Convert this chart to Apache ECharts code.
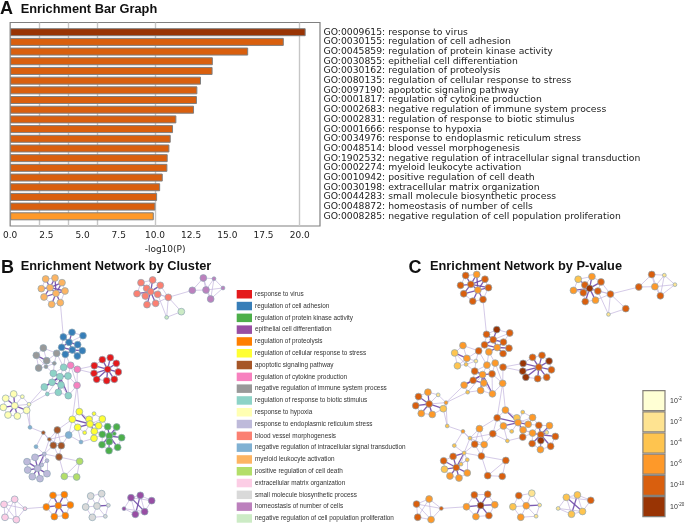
<!DOCTYPE html>
<html><head><meta charset="utf-8">
<style>html,body{margin:0;padding:0;background:#fff}#c{width:685px;height:524px}</style>
<script src="https://cdn.jsdelivr.net/npm/echarts@6/dist/echarts.min.js"></script>
</head><body><div id="c"></div>
<script>
// ---- Panel A data
const goLabels = ["GO:0009615: response to virus","GO:0030155: regulation of cell adhesion","GO:0045859: regulation of protein kinase activity","GO:0030855: epithelial cell differentiation","GO:0030162: regulation of proteolysis","GO:0080135: regulation of cellular response to stress","GO:0097190: apoptotic signaling pathway","GO:0001817: regulation of cytokine production","GO:0002683: negative regulation of immune system process","GO:0002831: regulation of response to biotic stimulus","GO:0001666: response to hypoxia","GO:0034976: response to endoplasmic reticulum stress","GO:0048514: blood vessel morphogenesis","GO:1902532: negative regulation of intracellular signal transduction","GO:0002274: myeloid leukocyte activation","GO:0010942: positive regulation of cell death","GO:0030198: extracellular matrix organization","GO:0044283: small molecule biosynthetic process","GO:0048872: homeostasis of number of cells","GO:0008285: negative regulation of cell population proliferation"];
const minusLogP = [20.41,18.9,16.44,14.0,13.98,13.18,12.93,12.9,12.7,11.48,11.25,11.09,11.0,10.88,10.86,10.54,10.36,10.15,10.03,9.92];
const pThresholdLines = [2,4,6,10,20];

// ---- Panel B/C data
const clusterNames = ["response to virus","regulation of cell adhesion","regulation of protein kinase activity","epithelial cell differentiation","regulation of proteolysis","regulation of cellular response to stress","apoptotic signaling pathway","regulation of cytokine production","negative regulation of immune system process","regulation of response to biotic stimulus","response to hypoxia","response to endoplasmic reticulum stress","blood vessel morphogenesis","negative regulation of intracellular signal transduction","myeloid leukocyte activation","positive regulation of cell death","extracellular matrix organization","small molecule biosynthetic process","homeostasis of number of cells","negative regulation of cell population proliferation"];
const pBinNames = ["1e-2","1e-3","1e-4","1e-6","1e-10","1e-20"];
const pBinExponents = ["-2","-3","-4","-6","-10","-20"];

// nodes: [x, y, p-value bin, term-size class]
const virusNodes = [[331,323,4,2],[307,329,4,2],[349,340,5,2],[283,347,5,2],[355,366,4,2],[323,358,4,2],[282,370,5,2],[290,388,5,2],[320,392,4,2],[343,388,4,2]];
const adhesionNodes = [[216,247,5,2],[249,257,4,2],[190,261,4,2],[207,277,4,2],[233,284,4,2],[247,302,4,2],[232,318,4,2],[185,292,4,2],[196,313,3,2],[217,300,3,2]];
const kinaseNodes = [[323,530,4,2],[350,531,3,2],[307,553,3,2],[343,551,1,1],[328,558,4,2],[365,563,4,2],[328,575,5,2],[306,584,4,2],[353,592,4,2],[327,602,3,2]];
const epithelialNodes = [[393,743,2,2],[421,736,2,2],[455,752,4,2],[372,776,1,1],[406,793,2,2],[434,785,2,2]];
const proteolysisNodes = [[159,736,4,2],[193,734,4,2],[139,771,3,2],[175,767,5,2],[211,765,3,2],[163,800,3,2],[196,797,4,2]];
const stressNodes = [[238,485,3,2],[282,491,2,1],[217,508,4,2],[307,507,3,2],[267,508,2,2],[296,527,3,2],[233,532,3,2],[283,544,3,2],[282,565,4,2],[254,548,2,1],[270,522,3,2]];
const apoptoticNodes = [[130,548,3,1],[172,540,3,2],[148,568,2,1],[160,586,4,2],[184,587,3,2],[177,621,4,2]];
const cytokineNodes = [[212,346,3,2],[232,358,4,2],[231,406,3,2]];
const immuneNodes = [[130,294,3,2],[109,316,2,2],[170,310,4,2],[140,332,3,2],[116,354,2,2],[163,340,1,1],[138,350,2,1]];
const bioticNodes = [[191,352,3,2],[160,370,4,2],[204,378,4,2],[180,380,3,2],[156,397,4,2],[133,411,3,2],[142,432,2,1],[175,427,3,2],[205,437,3,2],[183,405,3,2]];
const hypoxiaNodes = [[41,432,3,2],[17,445,4,2],[67,440,1,1],[44,467,4,2],[10,472,4,2],[24,495,3,2],[52,498,3,2],[80,481,2,2],[87,463,3,1]];
const erStressNodes = [[105,622,4,2],[133,612,2,1],[81,635,4,2],[141,632,2,1],[83,660,2,2],[113,655,4,2],[141,671,3,2],[97,680,3,2],[120,686,3,2],[125,645,2,1]];
const vesselNodes = [[423,98,2,2],[458,90,3,2],[481,106,4,2],[411,131,3,2],[440,115,4,2],[452,125,5,2],[473,133,4,2],[505,142,4,2],[436,138,4,2],[441,164,4,2],[467,160,3,2]];
const signalNodes = [[206,555,4,2],[243,576,2,1],[90,532,2,1],[108,590,2,1]];
const myeloidNodes = [[137,87,4,2],[165,84,3,2],[186,98,4,2],[195,123,4,2],[181,158,4,2],[155,163,4,2],[132,141,4,2],[124,116,4,2],[150,113,4,2],[168,130,3,2]];
const deathNodes = [[239,634,4,2],[193,679,4,2],[230,681,4,2]];
const matrixNodes = [[44,748,3,2],[12,763,4,2],[75,776,4,1],[49,809,3,2],[15,802,4,2]];
const biosynthNodes = [[272,738,4,2],[305,731,1,2],[257,771,2,2],[291,768,3,2],[325,766,1,1],[277,802,3,2],[316,799,1,1]];
const homeostasisNodes = [[610,84,4,2],[642,86,1,1],[577,121,4,2],[618,120,3,2],[669,114,1,1],[632,147,4,2]];
const proliferationNodes = [[544,185,4,2],[500,202,1,1]];

// edges inside a cluster: [node, node, strength]
const virusEdges = [[5,0,2],[5,1,2],[5,2,2],[5,3,2],[5,4,2],[5,6,2],[5,7,2],[5,8,2],[5,9,2],[3,6,1],[0,1,1],[1,3,1],[2,4,1],[7,8,1],[8,9,1],[4,9,1],[0,2,1],[6,7,1]];
const adhesionEdges = [[9,3,2],[9,4,2],[9,5,2],[9,6,2],[9,7,2],[9,8,2],[3,2,2],[3,0,2],[3,7,2],[3,4,2],[0,1,1],[1,4,1],[0,2,1],[2,7,1],[7,8,1],[4,5,1],[5,6,1],[1,3,1]];
const kinaseEdges = [[4,0,2],[4,1,2],[4,2,2],[4,3,2],[4,5,2],[4,6,2],[4,7,2],[4,8,2],[4,9,2],[0,1,1],[1,3,1],[5,8,1],[6,9,1],[7,9,1],[2,7,1],[8,9,1],[0,2,1]];
const epithelialEdges = [[0,1,1],[0,4,1],[0,5,2],[1,5,1],[1,4,2],[1,2,1],[2,5,1],[4,5,1],[3,0,1],[3,4,1],[3,5,1],[0,2,1]];
const proteolysisEdges = [[3,0,2],[3,1,2],[3,2,2],[3,4,2],[3,5,2],[3,6,2],[0,1,1],[1,4,1],[4,6,1],[5,6,1],[2,5,1],[0,2,1]];
const stressEdges = [[10,0,2],[10,1,1],[10,2,2],[10,3,1],[10,4,2],[10,5,2],[10,6,2],[10,7,2],[10,8,1],[10,9,1],[0,2,1],[2,6,1],[0,4,1],[1,3,1],[3,5,1],[6,9,1],[7,8,1],[4,5,1]];
const apoptoticEdges = [[0,2,1],[1,2,1],[2,3,1],[3,4,1],[1,3,1],[1,4,1],[3,5,1],[4,5,1],[2,4,1],[0,3,1]];
const cytokineEdges = [[0,1,1],[1,2,1],[0,2,1]];
const immuneEdges = [[3,0,1],[3,1,2],[3,2,1],[3,4,1],[3,5,1],[3,6,1],[0,1,1],[0,2,1],[1,4,1],[2,5,1],[4,6,1],[5,6,1],[1,6,1]];
const bioticEdges = [[3,0,1],[3,1,2],[3,2,2],[3,4,2],[3,5,2],[3,6,1],[3,7,2],[3,8,2],[3,9,2],[9,4,2],[9,7,1],[9,8,1],[4,5,2],[5,6,1],[6,7,1],[7,8,1],[2,8,1],[0,2,1],[0,1,1],[1,4,1]];
const hypoxiaEdges = [[3,0,2],[3,1,2],[3,2,1],[3,4,2],[3,5,2],[3,6,2],[3,7,2],[3,8,1],[2,8,1],[7,8,1],[6,7,1],[0,2,1],[0,1,1],[1,4,1],[4,5,1],[5,6,1]];
const erStressEdges = [[5,0,2],[5,1,2],[5,2,2],[5,3,1],[5,4,2],[5,6,2],[5,7,2],[5,8,2],[5,9,2],[0,1,2],[1,3,1],[0,2,1],[2,4,1],[4,7,1],[7,8,1],[6,8,1],[3,6,1],[9,1,1],[9,3,1]];
const vesselEdges = [[5,0,2],[5,1,2],[5,2,2],[5,3,2],[5,4,2],[5,6,2],[5,7,1],[5,8,2],[5,9,2],[5,10,2],[0,1,1],[1,2,1],[2,6,1],[6,7,1],[7,10,1],[9,10,1],[8,9,1],[3,8,1],[0,3,1],[2,7,1],[0,4,1],[1,4,1]];
const signalEdges = [[0,1,1]];
const myeloidEdges = [[8,0,2],[8,1,2],[8,2,2],[8,3,2],[8,6,2],[8,7,2],[8,9,2],[9,1,2],[9,2,2],[9,3,2],[9,4,2],[9,5,2],[9,6,2],[0,7,1],[0,1,1],[2,3,1],[3,4,1],[4,5,1],[5,6,1]];
const deathEdges = [[0,1,1],[1,2,1],[0,2,1]];
const matrixEdges = [[0,1,1],[0,2,1],[0,3,1],[0,4,1],[1,3,1],[1,4,1],[2,3,1],[3,4,1],[1,2,1]];
const biosynthEdges = [[3,0,1],[3,1,1],[3,2,1],[3,4,2],[3,5,1],[3,6,1],[0,1,1],[1,4,1],[4,6,1],[5,6,1],[2,5,1],[0,2,1]];
const homeostasisEdges = [[0,1,1],[0,2,1],[0,3,1],[0,5,1],[1,3,1],[1,4,1],[1,5,1],[2,3,1],[3,4,1],[3,5,1],[4,5,1]];
const proliferationEdges = [[0,1,1]];

// edges between clusters: [cluster, node, cluster, node]
const bridgeEdges = [[14,4,1,2],[1,7,8,2],[1,8,9,0],[1,8,7,0],[8,2,9,0],[8,5,9,1],[8,6,9,1],[7,0,9,0],[7,1,0,6],[7,1,0,3],[7,0,9,2],[7,2,9,2],[7,2,9,8],[7,2,5,2],[7,2,5,0],[9,6,10,8],[9,5,10,8],[10,8,13,2],[10,7,13,2],[13,2,6,0],[6,1,5,2],[13,0,5,6],[13,0,5,2],[6,2,13,0],[6,4,13,0],[6,5,15,0],[6,5,15,1],[11,1,6,2],[11,1,6,3],[11,1,6,5],[5,8,2,2],[5,7,2,2],[5,3,2,0],[5,5,2,0],[5,7,2,4],[5,8,13,1],[5,6,13,1],[13,3,6,0],[13,3,11,1],[12,7,18,2],[12,7,19,0],[12,7,19,1],[12,6,19,1],[16,2,4,2]];

const clusterNodes = [virusNodes,adhesionNodes,kinaseNodes,epithelialNodes,proteolysisNodes,stressNodes,apoptoticNodes,cytokineNodes,immuneNodes,bioticNodes,hypoxiaNodes,erStressNodes,vesselNodes,signalNodes,myeloidNodes,deathNodes,matrixNodes,biosynthNodes,homeostasisNodes,proliferationNodes];
const clusterEdges = [virusEdges,adhesionEdges,kinaseEdges,epithelialEdges,proteolysisEdges,stressEdges,apoptoticEdges,cytokineEdges,immuneEdges,bioticEdges,hypoxiaEdges,erStressEdges,vesselEdges,signalEdges,myeloidEdges,deathEdges,matrixEdges,biosynthEdges,homeostasisEdges,proliferationEdges];

// ---- styles
const clusterColors = ["#e41a1c","#377eb8","#4daf4a","#984ea3","#ff7f00","#ffff33","#a65628","#f781bf","#999999","#8dd3c7","#ffffb3","#bebada","#fb8072","#80b1d3","#fdb462","#b3de69","#fccde5","#d9d9d9","#bc80bd","#ccebc5"];
const binColors = ["#ffffd4","#fee391","#fec44f","#fe9929","#d95f0e","#993404"];
const barColor = i => i === 0 ? binColors[5] : (i === goLabels.length - 1 ? binColors[3] : binColors[4]);
const nodeBorder = {borderColor:'#8fa8b4',borderWidth:0.7};

function nodes(catOf){
  const out=[];
  clusterNodes.forEach((list,c)=>list.forEach((n,i)=>out.push({
    id:c+'_'+i, value:[n[0],n[1]], category:catOf(c,n),
    symbolSize:n[3]===1?3.8:6.8
  })));
  return out;
}
function links(){
  const out=[];
  const style=s=>s===2?{width:1.3,color:'#6f4aa8',opacity:.9}:{width:.8,color:'#bfb0dc',opacity:.85};
  clusterEdges.forEach((list,c)=>list.forEach(e=>out.push({source:c+'_'+e[0],target:c+'_'+e[1],lineStyle:style(e[2])})));
  bridgeEdges.forEach(e=>out.push({source:e[0]+'_'+e[1],target:e[2]+'_'+e[3],lineStyle:style(1)}));
  return out;
}
const hidden = (idx,min,max,inverse)=>({gridIndex:idx,type:'value',min,max,inverse:!!inverse,show:false});
const sans = 'DejaVu Sans', arial = 'Liberation Sans';
const head = (text,left,top,size)=>({text,left,top,padding:0,textStyle:{fontFamily:arial,fontWeight:'bold',fontSize:size,color:'#111'}});

const option = {
  animation:false, backgroundColor:'#fff',
  title:[head('A',0,0,18),head('Enrichment Bar Graph',20.7,2.5,12.8),
         head('B',1,259,18),head('Enrichment Network by Cluster',20.7,259.5,12.8),
         head('C',408.5,259,18),head('Enrichment Network by P-value',430,259.5,12.8)],
  grid:[
    {left:9.3,top:22.5,width:310.7,height:203.5,show:true,borderColor:'#808080',borderWidth:1.2,backgroundColor:'#fff'},
    {left:0,top:250,width:230,height:274},
    {left:411.8,top:246.1,width:271.4,height:279.5}
  ],
  xAxis:[
    {gridIndex:0,type:'value',min:0,max:21.4,interval:2.5,name:'-log10(P)',nameLocation:'middle',nameGap:19,
     nameTextStyle:{fontFamily:sans,fontSize:9,color:'#222'},splitLine:{show:false},
     axisLine:{show:false},axisTick:{length:3,lineStyle:{color:'#333',width:.7}},
     axisLabel:{fontFamily:sans,fontSize:9,color:'#222',margin:5,showMaxLabel:false,formatter:v=>v.toFixed(1)}},
    hidden(1,0,690), hidden(2,0,690)
  ],
  yAxis:[
    {gridIndex:0,type:'category',inverse:true,position:'right',boundaryGap:false,data:['',...goLabels,''],
     axisLine:{show:false},axisTick:{show:false},splitLine:{show:false},
     axisLabel:{interval:0,fontFamily:sans,fontSize:9.25,color:'#222',margin:3.5,align:'left'}},
    hidden(1,0,822,true), hidden(2,0,822,true)
  ],
  legend:[
    {orient:'vertical',left:236.7,top:290,padding:0,icon:'rect',itemWidth:15.3,itemHeight:8.5,itemGap:3.3,selectedMode:false,
     data:clusterNames,itemStyle:{borderWidth:0},textStyle:{fontFamily:arial,fontSize:6.4,color:'#333',padding:[0,0,0,-2]}},
    {orient:'vertical',left:642.3,top:390,padding:0,icon:'rect',itemWidth:22.1,itemHeight:20,itemGap:0,selectedMode:false,
     data:pBinNames,itemStyle:{borderColor:'#85807a',borderWidth:1.2},
     formatter:n=>'10{s|'+pBinExponents[pBinNames.indexOf(n)]+'}',
     textStyle:{fontFamily:arial,fontSize:7,color:'#333',rich:{s:{fontFamily:arial,fontSize:4.5,color:'#333',padding:[0,0,4,0]}}}}
  ],
  series:[
    {type:'bar',name:'thresholds',xAxisIndex:0,yAxisIndex:0,z:1,data:[],silent:true,
     markLine:{silent:true,z:1,symbol:'none',label:{show:false},animation:false,
       lineStyle:{color:'#c6c6c6',width:1.4,type:'solid'},
       data:pThresholdLines.map(v=>({xAxis:v}))}},
    {type:'bar',name:'minusLogP',xAxisIndex:0,yAxisIndex:0,z:3,barWidth:8,barGap:'-100%',silent:true,
     data:[null,...minusLogP.map((v,i)=>({value:v,itemStyle:{color:barColor(i)}})),null],
     itemStyle:{borderColor:'#7f7f7f',borderWidth:1}},
    {type:'graph',name:'byCluster',coordinateSystem:'cartesian2d',xAxisIndex:1,yAxisIndex:1,layout:'none',silent:true,
     categories:clusterNames.map((name,i)=>({name,itemStyle:{color:clusterColors[i],...nodeBorder}})),
     data:nodes((c,n)=>c),links:links(),edgeSymbol:['none','none'],label:{show:false},emphasis:{disabled:true}},
    {type:'graph',name:'byPValue',coordinateSystem:'cartesian2d',xAxisIndex:2,yAxisIndex:2,layout:'none',silent:true,
     categories:pBinNames.map((name,i)=>({name,itemStyle:{color:binColors[i],...nodeBorder}})),
     data:nodes((c,n)=>n[2]),links:links(),edgeSymbol:['none','none'],label:{show:false},emphasis:{disabled:true}}
  ]
};
echarts.init(document.getElementById('c'),null,{renderer:'canvas'}).setOption(option);
</script></body></html>
